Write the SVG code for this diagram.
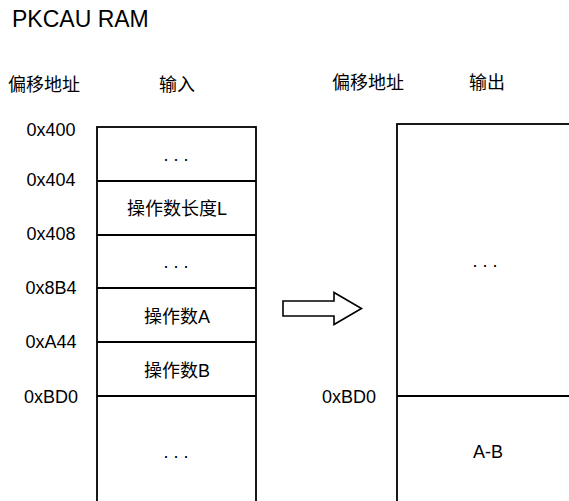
<svg xmlns="http://www.w3.org/2000/svg" width="569" height="501" viewBox="0 0 569 501">
<style>
text{font-family:"Liberation Sans","Noto Sans CJK SC",sans-serif;fill:#000;font-size:18px}
.c{text-anchor:middle}
.box{fill:#fff;stroke:#000;stroke-width:1.8}
.div{stroke:#000;stroke-width:1.8}
</style>
<rect width="569" height="501" fill="#fff"/>
<text x="12" y="27" style="font-size:23px">PKCAU RAM</text>
<g id="headers">
<text x="8" y="91">偏移地址</text>
<text x="159" y="91">输入</text>
<text x="332" y="89">偏移地址</text>
<text x="469" y="89">输出</text>
</g>
<g id="input-mem">
<rect class="box" x="97" y="127" width="159" height="420"/>
<line class="div" x1="97" y1="181" x2="256" y2="181"/>
<line class="div" x1="97" y1="235" x2="256" y2="235"/>
<line class="div" x1="97" y1="288" x2="256" y2="288"/>
<line class="div" x1="97" y1="342" x2="256" y2="342"/>
<line class="div" x1="97" y1="396" x2="256" y2="396"/>
<text class="c" x="51" y="136">0x400</text>
<text class="c" x="51" y="186">0x404</text>
<text class="c" x="51" y="240">0x408</text>
<text class="c" x="51" y="294">0x8B4</text>
<text class="c" x="51" y="348">0xA44</text>
<text class="c" x="51" y="403">0xBD0</text>
<text class="c" x="176" y="161">. . .</text>
<text class="c" x="177" y="215">操作数长度L</text>
<text class="c" x="176" y="268">. . .</text>
<text class="c" x="177" y="323">操作数A</text>
<text class="c" x="177" y="377">操作数B</text>
<text class="c" x="176" y="458">. . .</text>
</g>
<g id="output-mem">
<rect class="box" x="397" y="124" width="200" height="420"/>
<line class="div" x1="397" y1="396" x2="569" y2="396"/>
<text class="c" x="349" y="403">0xBD0</text>
<text class="c" x="485" y="267">. . .</text>
<text class="c" x="488" y="458">A-B</text>
</g>
<g id="connectors">
<polygon points="283,301 334,301 334,292.5 361.5,308.5 334,324.5 334,316 283,316" fill="#fff" stroke="#000" stroke-width="1.6" stroke-linejoin="miter"/>
</g>
</svg>
